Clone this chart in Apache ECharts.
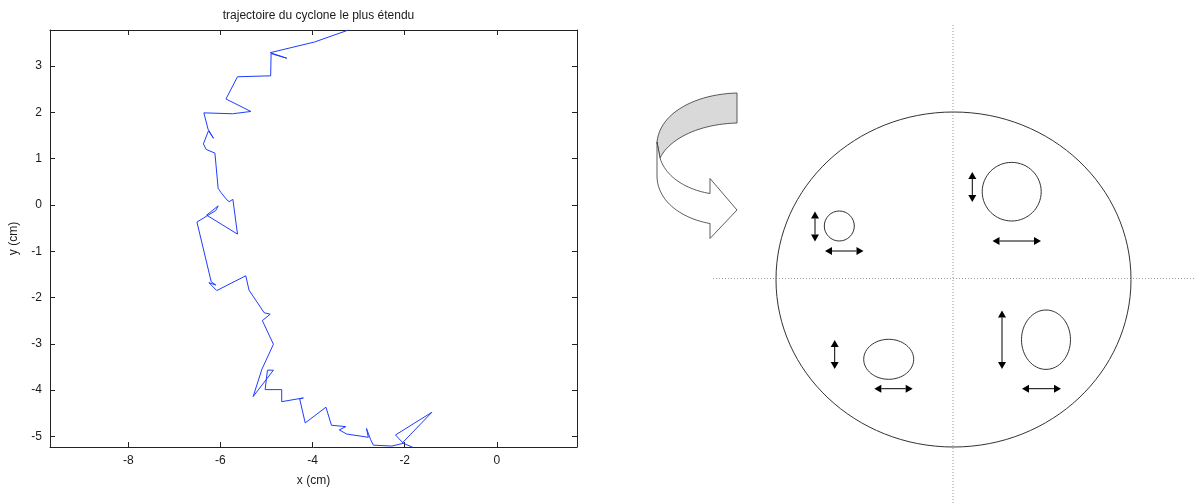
<!DOCTYPE html>
<html><head><meta charset="utf-8">
<script src="https://cdn.jsdelivr.net/npm/echarts@6/dist/echarts.min.js"></script>
<style>html,body{margin:0;padding:0;background:#fff}#c{width:1195px;height:504px}</style>
</head><body><div id="c"></div>
<script>
// ---- data ----
const chartTitle = 'trajectoire du cyclone le plus étendu';
const xName = 'x (cm)';
const yName = 'y (cm)';
const xRange = [-9.70, 1.74];
const yRange = [-5.23, 3.78];
const trajX = [-3.22, -3.96, -4.92, -4.56, -4.90, -4.91, -5.63, -5.88, -5.34, -5.74, -6.36, -6.27, -6.15, -6.26, -6.37, -6.31, -6.12, -6.05, -5.99, -5.86, -5.81, -5.73, -5.63, -6.30, -6.05, -6.10, -6.51, -6.20, -6.10, -6.25, -6.08, -5.45, -5.38, -5.05, -4.92, -5.09, -4.85, -5.10, -5.29, -4.85, -4.98, -5.03, -4.67, -4.67, -4.20, -4.28, -4.16, -3.71, -3.59, -3.28, -3.42, -3.26, -2.79, -2.83, -2.74, -2.68, -2.28, -2.03, -2.20, -1.41, -2.05, -1.82];
const trajY = [3.78, 3.52, 3.29, 3.17, 3.27, 2.79, 2.77, 2.29, 2.02, 1.97, 1.99, 1.64, 1.44, 1.60, 1.32, 1.20, 1.12, 0.36, 0.27, 0.11, 0.07, 0.12, -0.63, -0.22, -0.02, -0.12, -0.37, -1.66, -1.73, -1.68, -1.85, -1.53, -1.84, -2.33, -2.36, -2.50, -3.01, -3.55, -4.14, -3.57, -3.57, -3.99, -3.99, -4.25, -4.17, -4.19, -4.71, -4.37, -4.76, -4.79, -4.86, -4.95, -5.02, -4.83, -5.07, -5.19, -5.21, -5.15, -4.97, -4.48, -5.14, -5.24];

// ---- chart ----
const font = '"Liberation Sans", Arial, sans-serif';
const chart = echarts.init(document.getElementById('c'), null, {renderer: 'canvas'});
const axLine = {show: true, onZero: false, lineStyle: {color: '#222', width: 1}};
const tickIn = {show: true, inside: true, length: 5, lineStyle: {color: '#222', width: 1}};
const lbl = {color: '#1a1a1a', fontFamily: font, fontSize: 12, showMinLabel: false, showMaxLabel: false};

function arrow(x1, y1, x2, y2) {
  const els = [];
  const dx = x2 - x1, dy = y2 - y1, L = Math.hypot(dx, dy);
  const ux = dx / L, uy = dy / L, px = -uy, py = ux;
  const hl = 7, hw = 4;
  els.push({type: 'line', shape: {x1: x1 + ux * hl, y1: y1 + uy * hl, x2: x2 - ux * hl, y2: y2 - uy * hl}, style: {stroke: '#000', lineWidth: 1}});
  els.push({type: 'polygon', shape: {points: [[x1, y1], [x1 + ux * hl + px * hw, y1 + uy * hl + py * hw], [x1 + ux * hl - px * hw, y1 + uy * hl - py * hw]]}, style: {fill: '#000'}});
  els.push({type: 'polygon', shape: {points: [[x2, y2], [x2 - ux * hl + px * hw, y2 - uy * hl + py * hw], [x2 - ux * hl - px * hw, y2 - uy * hl - py * hw]]}, style: {fill: '#000'}});
  return els;
}
function ell(cx, cy, rx, ry) {
  return {type: 'ellipse', shape: {cx: cx, cy: cy, rx: rx, ry: ry}, style: {fill: 'none', stroke: '#333', lineWidth: 1}};
}
function bez(p0, p1, p2, p3, n) {
  const pts = [];
  for (let i = 0; i <= n; i++) {
    const t = i / n, u = 1 - t;
    pts.push([u*u*u*p0[0] + 3*u*u*t*p1[0] + 3*u*t*t*p2[0] + t*t*t*p3[0],
              u*u*u*p0[1] + 3*u*u*t*p1[1] + 3*u*t*t*p2[1] + t*t*t*p3[1]]);
  }
  return pts;
}
const greyPts = [].concat(
  bez([737, 93], [697, 94], [660, 112], [657, 142], 24),
  [[660, 158]],
  bez([660, 158], [670, 138], [700, 124], [737, 123], 24)
);
const whitePts = [].concat(
  [[657, 142]],
  bez([657, 177], [658, 203], [684, 219], [710, 223.5], 24),
  [[710, 238.5], [737, 210], [710, 178.5]],
  bez([710, 193.5], [688, 190], [666, 178], [660, 158], 24)
);
const dotted = {stroke: '#9a9a9a', lineWidth: 1, lineDash: [1, 2]};
const diagram = [
  {type: 'line', shape: {x1: 953, y1: 25, x2: 953, y2: 504}, style: dotted},
  {type: 'line', shape: {x1: 713, y1: 278.5, x2: 1195, y2: 278.5}, style: dotted},
  ell(953.5, 279.5, 177.5, 167.5),
  ell(839.3, 226, 15, 15),
  ell(1011.7, 191.7, 29.5, 29.3),
  ell(888.7, 359.3, 25, 20),
  ell(1046, 339.7, 24.5, 29.7),
  ...arrow(815, 211.5, 815, 241.5),
  ...arrow(825, 251, 863.5, 251),
  ...arrow(972.3, 172, 972.3, 202),
  ...arrow(992.5, 241, 1041, 241),
  ...arrow(834.7, 340, 834.7, 369),
  ...arrow(874.3, 388.7, 912.7, 388.7),
  ...arrow(1002, 310.5, 1002, 369),
  ...arrow(1022, 388.7, 1061, 388.7),
  {type: 'polygon', shape: {points: greyPts}, style: {fill: '#d9d9d9', stroke: '#333', lineWidth: 0.8}},
  {type: 'polygon', shape: {points: whitePts}, style: {fill: '#fff', stroke: '#333', lineWidth: 0.8}}
];

chart.setOption({
  animation: false,
  backgroundColor: '#fff',
  title: {text: chartTitle, left: 313.5, top: 5, textAlign: 'center',
    textStyle: {fontFamily: font, fontSize: 12, fontWeight: 'normal', color: '#1a1a1a'}},
  grid: {left: 50, top: 30, width: 527, height: 417, containLabel: false, show: false},
  xAxis: [
    {type: 'value', min: xRange[0], max: xRange[1], splitNumber: 5, position: 'bottom',
      name: xName, nameLocation: 'middle', nameGap: 28,
      nameTextStyle: {fontFamily: font, fontSize: 12, color: '#1a1a1a'},
      axisLine: axLine, axisTick: tickIn, axisLabel: Object.assign({margin: 8}, lbl), splitLine: {show: false}},
    {type: 'value', min: xRange[0], max: xRange[1], splitNumber: 5, position: 'top',
      axisLine: axLine, axisTick: tickIn, axisLabel: {show: false}, splitLine: {show: false}}
  ],
  yAxis: [
    {type: 'value', min: yRange[0], max: yRange[1], splitNumber: 9, position: 'left',
      name: yName, nameLocation: 'middle', nameGap: 30,
      nameTextStyle: {fontFamily: font, fontSize: 12, color: '#1a1a1a'},
      axisLine: axLine, axisTick: tickIn, axisLabel: Object.assign({margin: 8}, lbl), splitLine: {show: false}},
    {type: 'value', min: yRange[0], max: yRange[1], splitNumber: 9, position: 'right',
      axisLine: axLine, axisTick: tickIn, axisLabel: {show: false}, splitLine: {show: false}}
  ],
  series: [{
    type: 'line', xAxisIndex: 0, yAxisIndex: 0,
    data: trajX.map((x, i) => [x, trajY[i]]),
    showSymbol: false, symbol: 'none', clip: true,
    lineStyle: {color: '#1f3cff', width: 1}
  }],
  graphic: diagram
});
</script>
</body></html>
